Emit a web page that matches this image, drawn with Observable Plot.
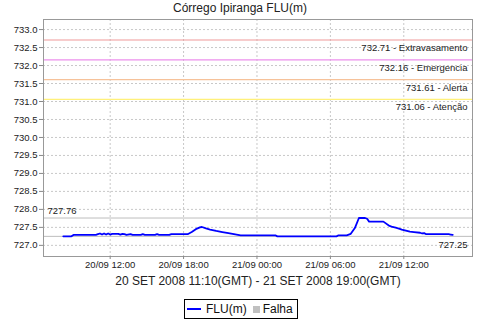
<!DOCTYPE html>
<html><head><meta charset="utf-8">
<script src="https://cdn.jsdelivr.net/npm/d3@7"></script>
<script src="https://cdn.jsdelivr.net/npm/@observablehq/plot@0.6"></script>
<style>
body{margin:0;background:#fff;font-family:"Liberation Sans",sans-serif;}
#wrap{width:480px;height:320px;position:relative;overflow:hidden;background:#fff}
#title{height:16px;line-height:17px;text-align:center;font-size:12px;color:#222}
#chart svg{display:block}
#legend{position:absolute;left:184px;top:299px;height:18px;border:1px solid #000;display:flex;align-items:center;padding:0 4px 0 2px;font-size:12px;color:#111;white-space:nowrap}
#legend .ln{display:inline-block;width:14px;height:2px;background:#0000ff;margin-right:5px}
#legend .sq{display:inline-block;width:7px;height:7px;background:#c0c0c0;margin:0 3px 0 6px}
</style></head><body>
<div id="wrap"><div id="title"></div><div id="chart"></div><div id="legend"></div></div>
<script>
const chartTitle = "Córrego Ipiranga FLU(m)";
const xAxisLabel = "20 SET 2008 11:10(GMT) - 21 SET 2008 19:00(GMT)";
const seriesName = "FLU(m)";
const failName = "Falha";

const times = [
  "2008-09-20T08:10","2008-09-20T08:50","2008-09-20T09:00","2008-09-20T10:50","2008-09-20T11:00",
  "2008-09-20T11:10","2008-09-20T11:20","2008-09-20T11:30","2008-09-20T11:40","2008-09-20T11:50",
  "2008-09-20T12:00","2008-09-20T12:10","2008-09-20T12:40","2008-09-20T12:50","2008-09-20T13:00",
  "2008-09-20T13:10","2008-09-20T13:20","2008-09-20T13:40","2008-09-20T13:50","2008-09-20T14:30",
  "2008-09-20T14:40","2008-09-20T14:50","2008-09-20T15:40","2008-09-20T15:50","2008-09-20T16:00",
  "2008-09-20T16:50","2008-09-20T17:00","2008-09-20T18:20","2008-09-20T18:40","2008-09-20T19:00",
  "2008-09-20T19:20","2008-09-20T19:30","2008-09-20T19:50","2008-09-20T20:10","2008-09-20T20:40",
  "2008-09-20T21:10","2008-09-20T21:40","2008-09-20T22:00","2008-09-20T22:40",
  "2008-09-21T01:30","2008-09-21T01:40","2008-09-21T06:30","2008-09-21T06:40","2008-09-21T07:20",
  "2008-09-21T07:30","2008-09-21T07:40","2008-09-21T08:00","2008-09-21T08:20","2008-09-21T08:50",
  "2008-09-21T09:00","2008-09-21T09:10","2008-09-21T10:20","2008-09-21T10:50","2008-09-21T11:00",
  "2008-09-21T11:20","2008-09-21T11:40","2008-09-21T11:50","2008-09-21T12:10","2008-09-21T12:30",
  "2008-09-21T12:50","2008-09-21T13:20","2008-09-21T13:30","2008-09-21T13:40","2008-09-21T13:50",
  "2008-09-21T15:40","2008-09-21T15:50","2008-09-21T16:00"
];
const values = [
  727.25,727.25,727.29,727.29,727.31,
  727.33,727.30,727.33,727.30,727.33,
  727.30,727.32,727.32,727.30,727.32,
  727.31,727.29,727.31,727.29,727.29,
  727.31,727.29,727.29,727.31,727.29,
  727.29,727.31,727.31,727.37,727.45,
  727.50,727.51,727.47,727.44,727.40,
  727.37,727.34,727.32,727.28,
  727.28,727.25,727.25,727.28,727.28,
  727.30,727.32,727.48,727.76,727.76,
  727.74,727.66,727.66,727.54,727.52,
  727.49,727.46,727.44,727.41,727.38,
  727.37,727.35,727.33,727.34,727.31,
  727.31,727.30,727.29
];
const thresholdValues = [732.71, 732.16, 731.61, 731.06];
const thresholdNames = ["Extravasamento", "Emergencia", "Alerta", "Atenção"];
const maxValue = 727.76;
const minValue = 727.25;
const yTicks = [727.0,727.5,728.0,728.5,729.0,729.5,730.0,730.5,731.0,731.5,732.0,732.5,733.0];
const xTicks = ["2008-09-20T12:00","2008-09-20T18:00","2008-09-21T00:00","2008-09-21T06:00","2008-09-21T12:00"];
const xDomain = ["2008-09-20T06:33","2008-09-21T17:37"];
const yDomain = [726.69, 733.28];

// styles
const thresholdColors = ["#f09a9a", "#ec90ec", "#f6c29a", "#fff07a"];

const parse = d3.utcParse("%Y-%m-%dT%H:%M");
const data = times.map((t, i) => ({t: parse(t), v: values[i]}));
const thresholds = thresholdValues.map((v, i) => ({v, label: `${v.toFixed(2)} - ${thresholdNames[i]}`}));
const xt = xTicks.map(parse);

document.getElementById("title").textContent = chartTitle;

const chart = Plot.plot({
  width: 480, height: 276,
  marginTop: 3, marginBottom: 36, marginLeft: 43, marginRight: 8,
  style: {fontFamily: "Liberation Sans, sans-serif", fontSize: "9.5px", color: "#222", background: "#fff"},
  x: {type: "utc", domain: xDomain.map(parse)},
  y: {domain: yDomain},
  marks: [
    Plot.gridX(xt, {stroke: "#c8c8c8", strokeOpacity: 1, strokeDasharray: "2,2"}),
    Plot.gridY(yTicks, {stroke: "#c8c8c8", strokeOpacity: 1, strokeDasharray: "2,2"}),
    ...thresholds.map((t, i) => Plot.ruleY([t.v], {stroke: thresholdColors[i], strokeWidth: 1.2})),
    Plot.text(thresholds, {y: "v", text: "label", frameAnchor: "right", textAnchor: "end", dx: -5, dy: 8, fill: "#222"}),
    Plot.ruleY([maxValue, minValue], {stroke: "#bdbdbd"}),
    Plot.text([maxValue], {y: d => d, text: d => d.toFixed(2), frameAnchor: "left", textAnchor: "start", dx: 4, dy: -7, fill: "#222"}),
    Plot.text([minValue], {y: d => d, text: d => d.toFixed(2), frameAnchor: "right", textAnchor: "end", dx: -5, dy: 9, fill: "#222"}),
    Plot.line(data, {x: "t", y: "v", stroke: "#0000ff", strokeWidth: 1.8}),
    Plot.frame({stroke: "#999"}),
    Plot.axisY(yTicks, {tickFormat: d => d.toFixed(1), tickSize: 4, tickPadding: 2, label: null, stroke: "#888", fill: "#222"}),
    Plot.axisX(xt, {tickFormat: d3.utcFormat("%d/%m %H:%M"), tickSize: 3, tickPadding: 2, stroke: "#888", fill: "#222", label: null}),
    Plot.text([xAxisLabel], {text: d => d, frameAnchor: "bottom", dy: 25, lineAnchor: "middle", fontSize: 12, fill: "#222"})
  ]
});
document.getElementById("chart").appendChild(chart);
document.getElementById("legend").innerHTML = `<span class="ln"></span><span>${seriesName}</span><span class="sq"></span><span>${failName}</span>`;
</script>
</body></html>
